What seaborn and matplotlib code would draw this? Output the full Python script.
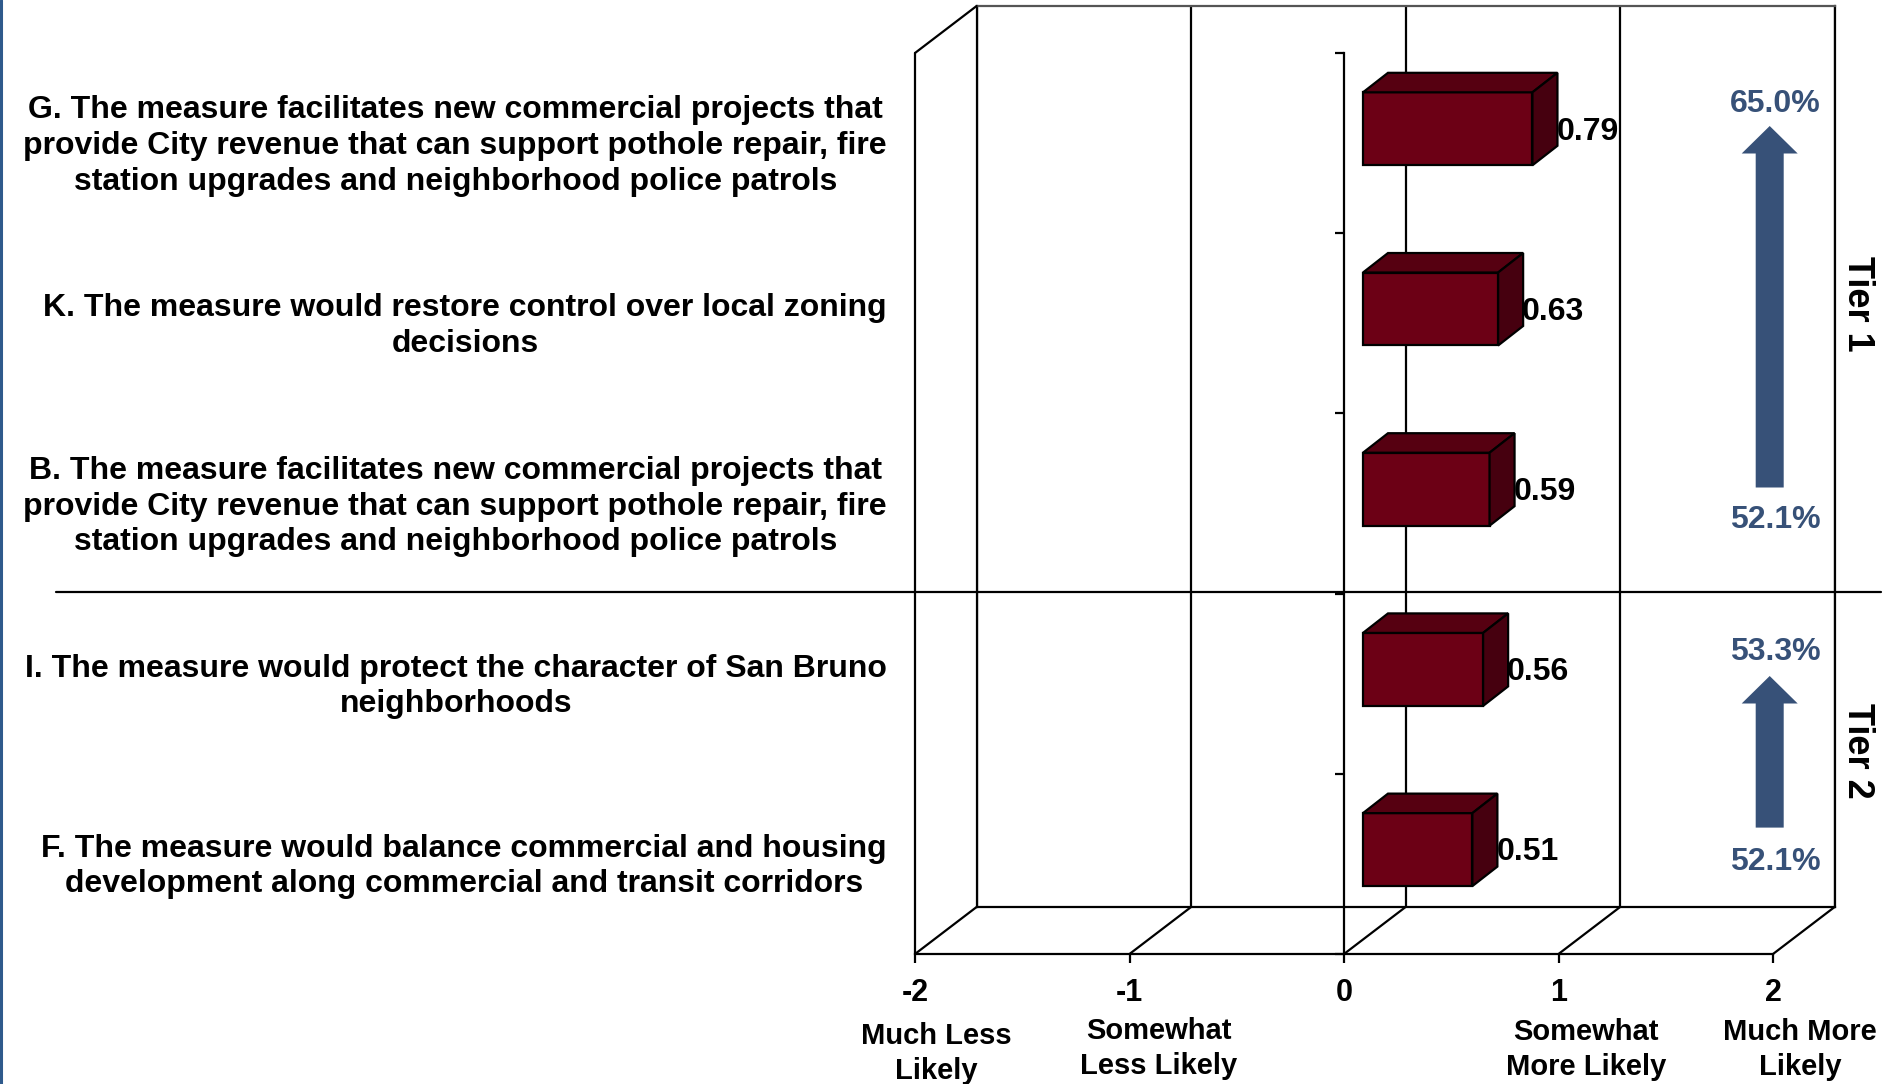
# Tier ranking of message statements, drawn as fake 3D bars on layered axes

import matplotlib.pyplot as plt
import seaborn as sns
from matplotlib.patches import FancyArrow, Polygon

letters = ["G", "K", "B", "I", "F"]
scores = [0.79, 0.63, 0.59, 0.56, 0.51]
statements = [
    "G. The measure facilitates new commercial projects that\nprovide City revenue that can support pothole repair, fire\nstation upgrades and neighborhood police patrols",
    "K. The measure would restore control over local zoning\ndecisions",
    "B. The measure facilitates new commercial projects that\nprovide City revenue that can support pothole repair, fire\nstation upgrades and neighborhood police patrols",
    "I. The measure would protect the character of San Bruno\nneighborhoods",
    "F. The measure would balance commercial and housing\ndevelopment along commercial and transit corridors",
]
x_ticks = [-2, -1, 0, 1, 2]
scale_names = ["Much Less\nLikely", "Somewhat\nLess Likely", "Somewhat\nMore Likely", "Much More\nLikely"]
tier_names = ["Tier 1", "Tier 2"]
tier_top = ["65.0%", "53.3%"]
tier_bottom = ["52.1%", "52.1%"]

W, H = 1897, 1084
NAVY = "#375178"
FRONT, TOP, SIDE = "#6c0015", "#560011", "#46000f"
LW = 1.6

sns.set_style("white")
plt.rcParams["font.family"] = ["Liberation Sans", "DejaVu Sans"]
plt.rcParams["font.weight"] = "bold"
plt.rcParams["axes.linewidth"] = LW

fig = plt.figure(figsize=(W / 100, H / 100), dpi=100, facecolor="white")


def plane(left, top, right, bottom):
    # axes given in pixels from the top left of the picture
    a = fig.add_axes([left / W, 1 - bottom / H, (right - left) / W, (bottom - top) / H])
    a.set_xlim(-2, 2)
    a.set_ylim(4.5, -0.5)
    a.patch.set_alpha(0)
    return a


# back wall
back = plane(976.6, 5.5, 1834.6, 907)
back.set_xticks(x_ticks)
back.set_yticks([])
back.set_xticklabels([])
back.grid(axis="x", color="black", lw=LW)
back.tick_params(length=0)
for s in back.spines.values():
    s.set_color("black")
back.spines["top"].set_color("#555555")

# front plane with the axes
ax = plane(915, 53, 1773, 954)
ax.spines[["top", "right"]].set_visible(False)
ax.spines["left"].set_position(("data", 0))
ax.spines["left"].set_color("black")
ax.spines["bottom"].set_color("black")
ax.set_xticks(x_ticks)
ax.set_xticklabels(["-2", "-1", "0", "1", "2"], fontsize=22, fontweight="bold")
ax.set_yticks([-0.5, 0.5, 1.5, 2.5, 3.5, 4.5])
ax.set_yticklabels([])
ax.tick_params(axis="both", length=6.5, width=LW, color="black", labelcolor="black", left=True, bottom=True)
ax.tick_params(axis="x", pad=11)
ax.patch.set_alpha(0)

# floor and side wall links, from front plane to back wall
depth_x = 61.6 / 214.5
depth_y = 47.0 / 180.2
ax.plot([-2, -2], [-0.5, 4.5], color="black", lw=LW, clip_on=False)
ax.plot([-2, -2 + depth_x], [-0.5, -0.5 - depth_y], color="black", lw=LW, clip_on=False)
for t in x_ticks:
    ax.plot([t, t + depth_x], [4.5, 4.5 - depth_y], color="black", lw=LW, clip_on=False)

# bars sit part way into the depth
bars = plane(915 + 19, 53 - 14.3, 1773 + 19, 954 - 14.3)
sns.barplot(x=scores, y=letters, orient="h", color=FRONT, saturation=1, width=0.405,
            edgecolor="black", linewidth=LW, ax=bars)
bars.set_xlim(-2, 2)
bars.set_ylim(4.5, -0.5)
bars.axis("off")

bar_dx = 25 / 214.5
bar_dy = 19.5 / 180.2
for p, score in zip(bars.patches, scores):
    x1 = p.get_x() + p.get_width()
    y0 = p.get_y()
    y1 = y0 + p.get_height()
    x0 = p.get_x()
    bars.add_patch(Polygon([(x0, y0), (x0 + bar_dx, y0 - bar_dy), (x1 + bar_dx, y0 - bar_dy), (x1, y0)],
                           facecolor=TOP, edgecolor="black", lw=LW, clip_on=False))
    bars.add_patch(Polygon([(x1, y0), (x1 + bar_dx, y0 - bar_dy), (x1 + bar_dx, y1 - bar_dy), (x1, y1)],
                           facecolor=SIDE, edgecolor="black", lw=LW, clip_on=False))
    bars.text(x1 + bar_dx - 0.005, y0 + p.get_height() / 2 + 0.015, f"{score:.2f}", ha="left", va="center",
              fontsize=23, fontweight="bold", color="black")

# annotation layer in pixels
over = fig.add_axes([0, 0, 1, 1])
over.set_xlim(0, W)
over.set_ylim(H, 0)
over.axis("off")
over.patch.set_alpha(0)

over.plot([1, 1], [0, H], color="#2f5a8c", lw=2.2)
over.plot([56, 1881], [591.7, 591.7], color="black", lw=LW)

text_y = [146, 326, 506.5, 686.5, 866.5]
for label, y in zip(statements, text_y):
    over.text(887, y, label, ha="right", va="center", multialignment="center",
              fontsize=23, fontweight="bold", color="black", linespacing=1.25)

scale_x = [936, 1159, 1586, 1800]
scale_y = [1053.5, 1048.5, 1049.5, 1049.5]
for name, x, y in zip(scale_names, scale_x, scale_y):
    over.text(x, y, name, ha="center", va="center", fontsize=21, fontweight="bold",
              color="black", linespacing=1.32)

tier_y = [303.6, 750.6]
for name, y in zip(tier_names, tier_y):
    over.text(1857, y, name, rotation=270, ha="center", va="center", fontsize=26,
              fontweight="bold", color="black")

# arrows: tail y, tip y
arrows = [(487.5, 126), (827.6, 676)]
for tail, tip in arrows:
    over.add_patch(FancyArrow(1769.7, tail, 0, tip - tail, width=28, head_width=56, head_length=27.5,
                              length_includes_head=True, facecolor=NAVY, edgecolor="none"))

for label, y in zip(tier_top + tier_bottom, [103.5, 652, 520, 862.5]):
    over.text(1775, y, label, ha="center", va="center", fontsize=23, fontweight="bold", color=NAVY)

fig.savefig("out.png", dpi=100, facecolor="white")
plt.close(fig)
